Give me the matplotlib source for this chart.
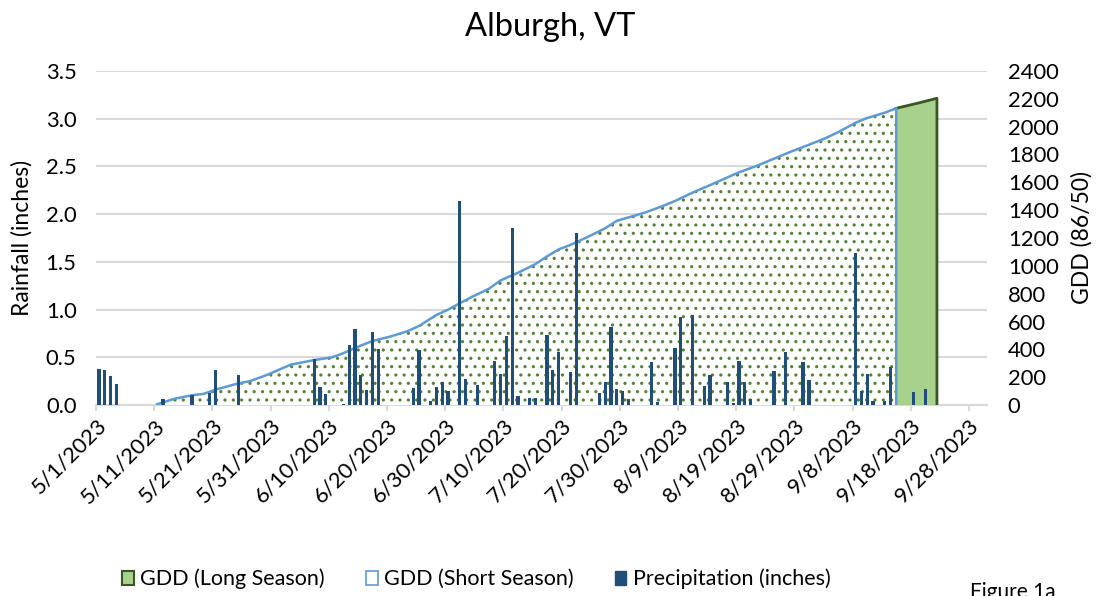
import matplotlib
matplotlib.use("Agg")
import matplotlib.pyplot as plt
import matplotlib.dates as mdates
from matplotlib.patches import Patch
from matplotlib.ticker import FixedLocator, FuncFormatter
import numpy as np
import pandas as pd

plt.rcParams["font.family"] = ["Lato", "DejaVu Sans"]
plt.rcParams["hatch.linewidth"] = 1.1

YEAR = 2023

# daily precipitation (inches)
rain_dates = ["5/1", "5/2", "5/3", "5/4", "5/12", "5/17", "5/20", "5/21", "5/25",
              "6/7", "6/8", "6/9", "6/12", "6/13", "6/14", "6/15", "6/16", "6/17", "6/18",
              "6/24", "6/25", "6/27", "6/28", "6/29", "6/30",
              "7/2", "7/3", "7/5", "7/8", "7/9", "7/10", "7/11", "7/12", "7/14", "7/15",
              "7/17", "7/18", "7/19", "7/21", "7/22",
              "7/26", "7/27", "7/28", "7/29", "7/30", "7/31",
              "8/4", "8/5", "8/8", "8/9", "8/11",
              "8/13", "8/14", "8/17", "8/18", "8/19", "8/20", "8/21",
              "8/25", "8/27", "8/30", "8/31",
              "9/8", "9/9", "9/10", "9/11", "9/13", "9/14", "9/18", "9/20"]
rain_inches = [0.38, 0.37, 0.30, 0.22, 0.06, 0.11, 0.13, 0.37, 0.31,
               0.48, 0.19, 0.12, 0.01, 0.63, 0.80, 0.31, 0.16, 0.77, 0.59,
               0.18, 0.58, 0.045, 0.19, 0.24, 0.15,
               2.14, 0.27, 0.21, 0.46, 0.32, 0.72, 1.86, 0.09, 0.07, 0.07,
               0.73, 0.37, 0.56, 0.35, 1.80,
               0.13, 0.24, 0.82, 0.17, 0.15, 0.06,
               0.45, 0.03, 0.60, 0.92, 0.94,
               0.20, 0.31, 0.24, 0.02, 0.46, 0.24, 0.06,
               0.36, 0.56, 0.45, 0.26,
               1.59, 0.15, 0.32, 0.04, 0.04, 0.40, 0.14, 0.17]

# cumulative GDD (86/50), short season
gdd_short_dates = ["5/11", "5/14", "5/17", "5/19", "5/21", "5/25", "5/27", "5/30",
                   "6/1", "6/3", "6/7", "6/10", "6/12", "6/14", "6/17", "6/20", "6/23",
                   "6/25", "6/28", "6/30", "7/2", "7/4", "7/7", "7/9", "7/12", "7/15",
                   "7/17", "7/19", "7/21", "7/24", "7/27", "7/29", "8/1", "8/3", "8/6",
                   "8/8", "8/11", "8/14", "8/16", "8/19", "8/22", "8/25", "8/28", "8/31",
                   "9/3", "9/5", "9/8", "9/10", "9/13", "9/15"]
gdd_short = [5, 45, 70, 80, 110, 156, 172, 218,
             255, 290, 323, 342, 372, 410, 460, 491, 530,
             568, 647, 685, 731, 775, 835, 895, 950, 1012,
             1068, 1118, 1150, 1208, 1270, 1324, 1360, 1385, 1432,
             1466, 1526, 1580, 1617, 1672, 1718, 1770, 1822, 1870,
             1920, 1960, 2028, 2062, 2100, 2132]

# cumulative GDD, long season extension
gdd_long_dates = ["9/15", "9/19", "9/22"]
gdd_long = [2132, 2172, 2204]

tick_dates = pd.date_range("2023-05-01", "2023-09-28", freq="10D")


def to_x(md):
    # Excel date axis: each day is a slot, marks sit in the middle of it
    d = pd.to_datetime([f"{s}/{YEAR}" for s in md], format="%m/%d/%Y")
    return mdates.date2num(d) + 0.5


GRID = "#D9D9D9"
TICK_FS = 15.8
LABEL_FS = 16.5

fig = plt.figure(figsize=(11.02, 5.96), dpi=100)
rect = [96 / 1102, (596 - 405) / 596, (987 - 96) / 1102, (405 - 71) / 596]
ax = fig.add_axes(rect)
gax = ax.twinx()
rax = fig.add_axes(rect, sharex=ax, sharey=ax)
rax.axis("off")
ax.set_zorder(0)
gax.set_zorder(1)
rax.set_zorder(2)
gax.patch.set_visible(False)

# rainfall axis / grid
ax.set_ylim(0, 3.5)
ax.set_yticks(np.arange(0, 3.51, 0.5))
ax.yaxis.set_major_formatter(FuncFormatter(lambda v, _: f"{v:.1f}"))
ax.yaxis.grid(True, color=GRID, lw=1.5)
ax.set_axisbelow(True)
start = mdates.date2num(pd.Timestamp("2023-05-01"))
ax.set_xlim(start, start + 153.1)
ax.xaxis.set_major_locator(FixedLocator(mdates.date2num(tick_dates)))
ax.xaxis.set_major_formatter(FuncFormatter(
    lambda v, _: (lambda d: f"{d.month}/{d.day}/{d.year}")(mdates.num2date(v))))
for s in ["top", "left", "right"]:
    ax.spines[s].set_visible(False)
ax.spines["bottom"].set_color(GRID)
ax.spines["bottom"].set_linewidth(1.5)
ax.tick_params(axis="y", length=0, pad=14, labelsize=TICK_FS)
ax.tick_params(axis="x", length=4.5, width=1.5, color=GRID, labelsize=TICK_FS, pad=3)
for lab in ax.get_xticklabels():
    lab.set_rotation(45)
    lab.set_ha("right")
    lab.set_va("top")
    lab.set_rotation_mode("anchor")
ax.set_ylabel("Rainfall (inches)", fontsize=LABEL_FS)
ax.yaxis.set_label_coords(-0.071, 0.5)

# GDD areas
gax.set_ylim(0, 2400)
gax.set_yticks(np.arange(0, 2401, 200))
gax.tick_params(axis="y", length=0, pad=15, labelsize=TICK_FS)
for s in gax.spines.values():
    s.set_visible(False)
gax.set_ylabel("GDD (86/50)", fontsize=LABEL_FS)
gax.yaxis.set_label_coords(1.0945, 0.5)

xl = to_x(gdd_long_dates)
gax.fill_between(xl, gdd_long, 0, facecolor="#A9D18E", edgecolor="none")
gax.plot(np.r_[xl, xl[-1]], np.r_[gdd_long, 0], color="#385723", lw=2)

xs = to_x(gdd_short_dates)
gax.fill_between(xs, gdd_short, 0, facecolor="white", edgecolor="#548235",
                 hatch="..", linewidth=0)
gax.plot(np.r_[xs, xs[-1]], np.r_[gdd_short, 0], color="#5B9BD5", lw=1.8)

# precipitation bars on top
rax.bar(to_x(rain_dates), rain_inches, width=0.55, color="#1F4E79")

fig.text(0.499, 0.955, "Alburgh, VT", ha="center", va="center", fontsize=23.5)

handles = [
    Patch(facecolor="#A9D18E", edgecolor="#385723", lw=1.5),
    Patch(facecolor="white", edgecolor="#5B9BD5", lw=1.2),
    Patch(facecolor="#1F4E79", edgecolor="#1F4E79"),
]
fig.legend(handles, ["GDD (Long Season)", "GDD (Short Season)", "Precipitation (inches)"],
           loc="center left", bbox_to_anchor=(122 / 1102, 0.0285), ncol=3, frameon=False,
           borderpad=0, borderaxespad=0,
           fontsize=15.5, handlelength=0.55, handleheight=0.65, handletextpad=0.3,
           columnspacing=1.9)
fig.text(970 / 1102, (596 - 582) / 596, "Figure 1a", va="top", ha="left", fontsize=15)

fig.savefig("out.png", dpi=100)
